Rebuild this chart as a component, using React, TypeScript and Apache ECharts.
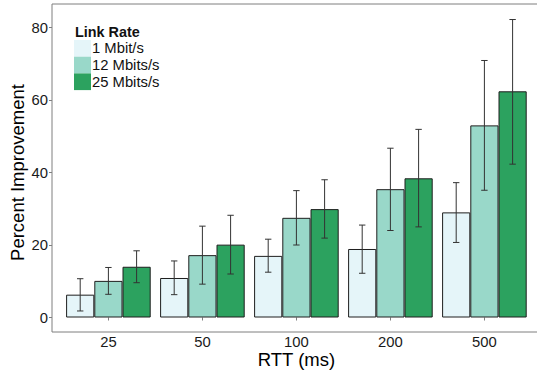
import React, { useEffect, useRef } from 'react';
import * as echarts from 'echarts';

const categories = ['25', '50', '100', '200', '500'];
const seriesNames = ['1 Mbit/s', '12 Mbits/s', '25 Mbits/s'];
const rate1 = [6.3, 10.9, 17.0, 18.9, 29.0];
const rate12 = [10.1, 17.2, 27.5, 35.4, 53.0];
const rate25 = [14.0, 20.1, 29.9, 38.4, 62.4];
const low1 = [1.8, 6.3, 12.5, 12.2, 20.7];
const high1 = [10.7, 15.6, 21.6, 25.5, 37.2];
const low12 = [6.4, 9.2, 20.0, 24.0, 35.1];
const high12 = [13.8, 25.2, 35.0, 46.7, 70.9];
const low25 = [9.6, 12.0, 21.9, 25.0, 42.3];
const high25 = [18.4, 28.2, 38.0, 51.9, 82.2];
const colors = ['#e5f5f9', '#99d8c9', '#2ca25f'];

const FONT = 'Liberation Sans, Arial, Helvetica, sans-serif';

export default function App() {
  const ref = useRef<HTMLDivElement>(null);
  useEffect(() => {
    if (!ref.current) return;
    const chart = echarts.init(ref.current, undefined, { renderer: 'svg' });
    const values = [rate1, rate12, rate25];
    const lows = [low1, low12, low25];
    const highs = [high1, high12, high25];
    const errData: number[][] = [];
    for (let s = 0; s < 3; s++) {
      for (let i = 0; i < categories.length; i++) {
        errData.push([i, s, lows[s][i], highs[s][i]]);
      }
    }
    const barSeries = seriesNames.map((name, s) => ({
      name,
      type: 'bar',
      xAxisIndex: 1,
      yAxisIndex: 1,
      data: values[s],
      barGap: '0%',
      barCategoryGap: '10%',
      itemStyle: { color: colors[s], borderColor: '#1e1e1e', borderWidth: 1 },
      z: 2,
    }));
    const errStyle = { stroke: '#333', lineWidth: 1 };
    chart.setOption({
      animation: false,
      textStyle: { fontFamily: FONT },
      title: {
        text: 'Link Rate',
        left: 75,
        top: 25,
        padding: 0,
        textStyle: { fontSize: 14.4, fontWeight: 'bold', color: '#111', fontFamily: FONT },
      },
      legend: {
        data: seriesNames,
        orient: 'vertical',
        left: 74,
        top: 40,
        padding: 0,
        itemGap: 0,
        itemWidth: 17,
        itemHeight: 16.7,
        icon: 'rect',
        selectedMode: false,
        itemStyle: { borderWidth: 0 },
        textStyle: { fontSize: 14.8, color: '#111', fontFamily: FONT, padding: [0, 0, 0, -4] },
      },
      grid: [
        { left: 52, right: -2, top: 4, bottom: 38, show: true, borderColor: '#7f7f7f', borderWidth: 1, backgroundColor: 'transparent', outerBoundsMode: 'none', containLabel: false },
        { left: 61.4, right: 5.6, top: 27.5, bottom: 52.5, outerBoundsMode: 'none', containLabel: false },
      ],
      xAxis: [
        { type: 'value', gridIndex: 0, show: false, min: 0, max: 1 },
        {
          type: 'category',
          gridIndex: 1,
          data: categories,
          offset: 14.5,
          axisLine: { show: false },
          axisTick: { show: true, alignWithLabel: true, length: 3, lineStyle: { color: '#7f7f7f' } },
          axisLabel: { fontSize: 14.8, color: '#1a1a1a', margin: 2.5, fontFamily: FONT },
          name: 'RTT (ms)',
          nameLocation: 'middle',
          nameGap: 18,
          nameMoveOverlap: false,
          nameTextStyle: { fontSize: 18.5, color: '#000', fontFamily: FONT },
        },
      ],
      yAxis: [
        { type: 'value', gridIndex: 0, show: false, min: 0, max: 1 },
        {
          type: 'value',
          gridIndex: 1,
          min: 0,
          max: 80,
          interval: 20,
          offset: 9.4,
          axisLine: { show: false },
          axisTick: { show: true, length: 3, lineStyle: { color: '#7f7f7f' } },
          axisLabel: { fontSize: 14.8, color: '#1a1a1a', margin: 4, fontFamily: FONT },
          splitLine: { show: false },
          name: 'Percent Improvement',
          nameLocation: 'middle',
          nameRotate: 90,
          nameGap: 25,
          nameMoveOverlap: false,
          nameTextStyle: { fontSize: 18.5, color: '#000', fontFamily: FONT },
        },
      ],
      series: [
        ...barSeries,
        {
          type: 'custom',
          xAxisIndex: 1,
          yAxisIndex: 1,
          data: errData,
          clip: false,
          z: 5,
          encode: { x: 0, y: [2, 3] },
          renderItem: (params: any, api: any) => {
            const i = api.value(0);
            const s = api.value(1);
            const lo = api.coord([i, api.value(2)]);
            const hi = api.coord([i, api.value(3)]);
            const band = api.size([1, 0])[0];
            const bw = (band * 0.9) / 3;
            const x = lo[0] + (s - 1) * bw;
            const hw = 3.2;
            return {
              type: 'group',
              children: [
                { type: 'line', shape: { x1: x, y1: hi[1], x2: x, y2: lo[1] }, style: errStyle },
                { type: 'line', shape: { x1: x - hw, y1: hi[1], x2: x + hw, y2: hi[1] }, style: errStyle },
                { type: 'line', shape: { x1: x - hw, y1: lo[1], x2: x + hw, y2: lo[1] }, style: errStyle },
              ],
            };
          },
        },
      ],
    });
    return () => chart.dispose();
  }, []);
  return (
    <div
      ref={ref}
      style={{ position: 'fixed', left: 0, top: 0, width: 537, height: 370, background: '#fff' }}
    />
  );
}
